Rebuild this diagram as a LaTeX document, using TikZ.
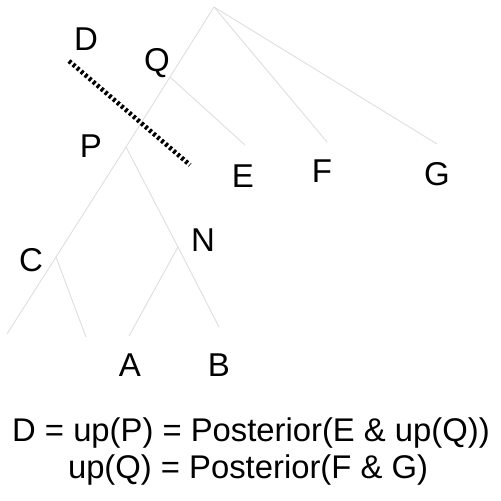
\documentclass[tikz,border=0pt]{standalone}
\usepackage{fontspec}
\setmainfont{Liberation Sans}
\begin{document}
\begin{tikzpicture}[x=1pt,y=-1pt,
  branch/.style={draw=black!13,line width=0.9pt},
  lbl/.style={font=\fontsize{33}{36}\selectfont,inner sep=0pt,anchor=center},
  eq/.style={font=\fontsize{32.8}{36}\selectfont,inner sep=0pt,anchor=center},
  cut/.style={draw=black,line width=4.6pt,dash pattern=on 2.8pt off 2.5pt}]
\useasboundingbox (0,0) rectangle (501,501);
% junctions and leaves
\coordinate (r) at (214,7);
\coordinate (q) at (170,77);
\coordinate (p) at (126,147);
\coordinate (c) at (56,257);
\coordinate (n) at (178,247);
\coordinate (e) at (245,145);
\coordinate (f) at (327,142);
\coordinate (g) at (437,144);
\coordinate (c1) at (7,334);
\coordinate (c2) at (86,337);
\coordinate (a) at (129,336);
\coordinate (b) at (219,327);
\coordinate (d1) at (69,61);
\coordinate (d2) at (190,165);
% branches
\draw[branch] (r) -- (q) -- (p) -- (c) -- (c1);
\draw[branch] (c) -- (c2);
\draw[branch] (p) -- (n) -- (b);
\draw[branch] (n) -- (a);
\draw[branch] (q) -- (e);
\draw[branch] (r) -- (f);
\draw[branch] (r) -- (g);
% cut
\draw[cut] (d1) -- (d2);
% labels
\node[lbl] (lD) at (86,39) {D};
\node[lbl] (lQ) at (157,63) {Q};
\node[lbl] (lP) at (91,146) {P};
\node[lbl] (lE) at (243,176) {E};
\node[lbl] (lF) at (322,171) {F};
\node[lbl] (lG) at (437,174) {G};
\node[lbl] (lC) at (31,260) {C};
\node[lbl] (lN) at (203,240) {N};
\node[lbl] (lA) at (130,365) {A};
\node[lbl] (lB) at (219,365) {B};
\node[eq] (eq1) at (251,433) {D = up(P) = Posterior(E \& up(Q))};
\node[eq] (eq2) at (248,470) {up(Q) = Posterior(F \& G)};
\end{tikzpicture}
\end{document}
